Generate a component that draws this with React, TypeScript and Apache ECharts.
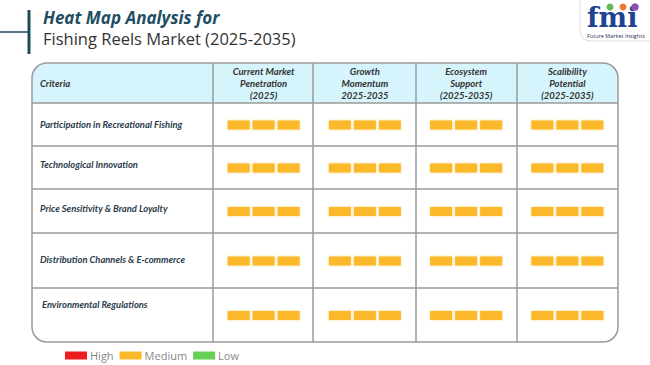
import React, { useEffect, useRef } from "react";
import * as echarts from "echarts";

// ---------- data ----------
const levels = ["High", "Medium", "Low"];
const criteria = [
  "Participation in Recreational Fishing",
  "Technological Innovation",
  "Price Sensitivity & Brand Loyalty",
  "Distribution Channels & E-commerce",
  "Environmental Regulations",
];
const metrics = [
  "Current Market\nPenetration\n(2025)",
  "Growth\nMomentum\n2025-2035",
  "Ecosystem\nSupport\n(2025-2035)",
  "Scalibility\nPotential\n(2025-2035)",
];
const ratings = [
  ["Medium", "Medium", "Medium", "Medium"],
  ["Medium", "Medium", "Medium", "Medium"],
  ["Medium", "Medium", "Medium", "Medium"],
  ["Medium", "Medium", "Medium", "Medium"],
  ["Medium", "Medium", "Medium", "Medium"],
];
const titleText = "Heat Map Analysis for";
const subtitleText = "Fishing Reels Market (2025-2035)";
const headerLabel = "Criteria";

// ---------- layout / style ----------
const levelColors: Record<string, string> = {
  High: "#ee1d1d",
  Medium: "#fbb829",
  Low: "#66cf55",
};
const colEdges = [32, 213, 313, 416, 517, 618];
const rowEdges = [63, 103, 146, 189, 233, 288, 342];
const labelY = [124.5, 164, 208, 259, 304];
const labelX = [40, 40, 40, 40, 42];
const FONT = "Lato, 'Open Sans', sans-serif";
const LINE = "#9a9a9a";

export default function App() {
  const ref = useRef<HTMLDivElement>(null);
  useEffect(() => {
    if (!ref.current) return;
    const chart = echarts.init(ref.current, null, { renderer: "svg" });

    const grids: any[] = [];
    const xAxes: any[] = [];
    const yAxes: any[] = [];
    const series: any[] = [];
    const graphics: any[] = [];
    const tableLeft = colEdges[1];
    const tableRight = colEdges[colEdges.length - 1];

    criteria.forEach((name, i) => {
      const top = rowEdges[i + 1];
      const h = rowEdges[i + 2] - top;
      grids.push({ left: tableLeft, top, width: tableRight - tableLeft, height: h });
      xAxes.push({
        type: "category",
        gridIndex: i,
        data: metrics,
        position: "top",
        axisLine: { show: false },
        axisTick: { show: false },
        splitLine: { show: false },
        axisLabel: i === 0
          ? {
              show: true,
              interval: 0,
              margin: 20,
              verticalAlign: "middle",
              fontFamily: FONT,
              fontSize: 9.5,
              fontWeight: "bold",
              fontStyle: "italic",
              lineHeight: 12,
              color: "#333333",
            }
          : { show: false },
      });
      yAxes.push({
        type: "category",
        gridIndex: i,
        data: [name],
        axisLine: { show: false },
        axisTick: { show: false },
        splitLine: { show: false },
        axisLabel: { show: false },
      });
      graphics.push({
        type: "text",
        style: {
          x: labelX[i], y: labelY[i], text: name,
          fontFamily: FONT, fontSize: 9.4, fontWeight: "bold", fontStyle: "italic",
          fill: "#2b3b4b", verticalAlign: "middle",
        },
      });
      levels.forEach((lvl) => {
        const data: number[][] = [];
        ratings[i].forEach((r, j) => {
          if (r === lvl) data.push([j, 0]);
        });
        series.push({
          type: "custom",
          name: lvl,
          xAxisIndex: i,
          yAxisIndex: i,
          itemStyle: { color: levelColors[lvl] },
          data,
          renderItem: (params: any, api: any) => {
            const c = api.coord([api.value(0), api.value(1)]);
            const w = 22, bh = 9, gap = 3;
            const color = api.visual("color");
            return {
              type: "group",
              children: [-1, 0, 1].map((k) => ({
                type: "rect",
                shape: { x: c[0] + k * (w + gap) - w / 2, y: c[1] - bh / 2 + 0.5, width: w, height: bh },
                style: { fill: color, shadowBlur: 2, shadowColor: "rgba(251,184,41,0.6)" },
              })),
            };
          },
        });
      });
    });

    const tableTop = rowEdges[0];
    const tableBottom = rowEdges[rowEdges.length - 1];
    const tLeft = colEdges[0];
    graphics.push(
      // header background
      {
        type: "rect",
        z: -10,
        shape: { x: tLeft, y: tableTop, width: tableRight - tLeft, height: rowEdges[1] - tableTop, r: [15, 15, 0, 0] },
        style: { fill: "#d6f4fc" },
      },
      // outer border
      {
        type: "rect",
        z: 5,
        shape: { x: tLeft, y: tableTop, width: tableRight - tLeft, height: tableBottom - tableTop, r: 15 },
        style: { fill: "none", stroke: LINE, lineWidth: 1.5 },
      },
      {
        type: "text",
        style: {
          x: 40, y: (rowEdges[0] + rowEdges[1]) / 2, text: headerLabel,
          fontFamily: FONT, fontSize: 9.5, fontWeight: "bold", fontStyle: "italic",
          fill: "#333333", verticalAlign: "middle",
        },
      },
      // title decoration
      { type: "line", shape: { x1: 0, y1: 32, x2: 29, y2: 32 }, style: { stroke: "#1d4a5d", lineWidth: 1.5 } },
      { type: "line", shape: { x1: 29, y1: 10, x2: 29, y2: 54 }, style: { stroke: "#1d4a5d", lineWidth: 3 } },
      // logo
      {
        type: "rect",
        shape: { x: 580, y: -5, width: 80, height: 46, r: [0, 0, 0, 10] },
        style: { fill: "#ffffff", stroke: "#dddddd", lineWidth: 1 },
      },
      {
        type: "text",
        style: {
          x: 587, y: 31, text: "fmi", fontFamily: "'DejaVu Serif', serif", fontSize: 27,
          fontWeight: "bold", fill: "#1e4392", verticalAlign: "bottom",
        },
      },
      { type: "circle", shape: { cx: 610, cy: 7, r: 3.5 }, style: { fill: "#5fb85a" } },
      { type: "circle", shape: { cx: 623, cy: 7, r: 3.5 }, style: { fill: "#ee7a30" } },
      { type: "circle", shape: { cx: 635, cy: 7, r: 3.8 }, style: { fill: "#8b4fb2" } },
      {
        type: "text",
        style: {
          x: 587, y: 36, text: "Future Market Insights", fontFamily: "'Open Sans', sans-serif",
          fontSize: 5.5, fill: "#1e3050", verticalAlign: "middle",
        },
      }
    );
    colEdges.slice(1, -1).forEach((x) => {
      graphics.push({
        type: "line", z: 5,
        shape: { x1: x, y1: tableTop, x2: x, y2: tableBottom },
        style: { stroke: LINE, lineWidth: 1.5 },
      });
    });
    rowEdges.slice(1, -1).forEach((y) => {
      graphics.push({
        type: "line", z: 5,
        shape: { x1: tLeft, y1: y, x2: tableRight, y2: y },
        style: { stroke: LINE, lineWidth: 1.5 },
      });
    });

    chart.setOption({
      animation: false,
      backgroundColor: "#ffffff",
      title: {
        text: titleText,
        subtext: subtitleText,
        left: 38,
        top: 4,
        itemGap: 4,
        textStyle: {
          fontFamily: "'Open Sans', sans-serif", fontSize: 17, fontWeight: "bold",
          fontStyle: "italic", color: "#1f4e63",
        },
        subtextStyle: { fontFamily: "'Open Sans', sans-serif", fontSize: 16.5, color: "#333333" },
      },
      legend: {
        data: levels,
        left: 60,
        top: 345,
        icon: "rect",
        itemWidth: 22,
        itemHeight: 8,
        itemGap: 6,
        textStyle: { fontFamily: "'Open Sans', sans-serif", fontSize: 11, color: "#888888", padding: [0, 0, 0, -2] },
      },
      grid: grids,
      xAxis: xAxes,
      yAxis: yAxes,
      series,
      graphic: graphics,
    });
    return () => chart.dispose();
  }, []);
  return (
    <div
      ref={ref}
      style={{ position: "fixed", left: 0, top: 0, width: 650, height: 365 }}
    />
  );
}
